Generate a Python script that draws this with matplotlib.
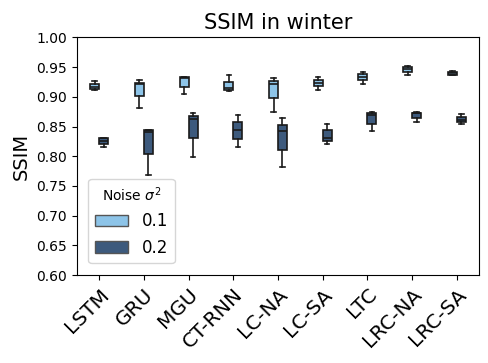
import matplotlib
matplotlib.use("Agg")
import matplotlib.pyplot as plt
from matplotlib.patches import Patch

models = ["LSTM", "GRU", "MGU", "CT-RNN", "LC-NA", "LC-SA", "LTC", "LRC-NA", "LRC-SA"]

# noise 0.1
lo_01  = [0.912, 0.881, 0.904, 0.910, 0.875, 0.912, 0.922, 0.937, 0.936]
q1_01  = [0.913, 0.901, 0.917, 0.912, 0.898, 0.918, 0.928, 0.942, 0.937]
med_01 = [0.917, 0.922, 0.931, 0.915, 0.922, 0.923, 0.933, 0.946, 0.940]
q3_01  = [0.921, 0.924, 0.933, 0.925, 0.927, 0.929, 0.938, 0.950, 0.942]
hi_01  = [0.926, 0.928, 0.934, 0.936, 0.931, 0.933, 0.941, 0.952, 0.944]

# noise 0.2
lo_02  = [0.816, 0.769, 0.798, 0.815, 0.782, 0.821, 0.842, 0.857, 0.855]
q1_02  = [0.820, 0.804, 0.830, 0.829, 0.811, 0.825, 0.855, 0.864, 0.857]
med_02 = [0.825, 0.841, 0.862, 0.845, 0.842, 0.830, 0.869, 0.872, 0.861]
q3_02  = [0.830, 0.844, 0.868, 0.858, 0.853, 0.844, 0.872, 0.873, 0.866]
hi_02  = [0.831, 0.845, 0.872, 0.869, 0.865, 0.855, 0.875, 0.875, 0.871]

noise_labels = ["0.1", "0.2"]
colors = ["#8dc4e8", "#3d5a7d"]


def make_stats(lo, q1, med, q3, hi):
    return [dict(whislo=a, q1=b, med=c, q3=d, whishi=e, fliers=[])
            for a, b, c, d, e in zip(lo, q1, med, q3, hi)]


fig = plt.figure(figsize=(4.89, 3.63), dpi=100)
ax = fig.add_axes([0.157, 0.242, 0.823, 0.655])

groups = [make_stats(lo_01, q1_01, med_01, q3_01, hi_01),
          make_stats(lo_02, q1_02, med_02, q3_02, hi_02)]
offsets = [-0.1, 0.1]

for stats, off, col in zip(groups, offsets, colors):
    pos = [i + off for i in range(len(models))]
    ax.bxp(stats, positions=pos, widths=0.2, patch_artist=True,
           showfliers=False,
           boxprops=dict(facecolor=col, edgecolor="#1a1a1a", linewidth=1.2),
           medianprops=dict(color="#1a1a1a", linewidth=1.2),
           whiskerprops=dict(color="#1a1a1a", linewidth=1.2),
           capprops=dict(color="#1a1a1a", linewidth=1.2))

ax.set_xlim(-0.5, len(models) - 0.5)
ax.set_ylim(0.60, 1.00)
ax.set_xticks(range(len(models)))
ax.set_xticklabels(models, rotation=45, ha="right", rotation_mode="anchor", fontsize=14.5)
ax.set_yticks([0.60, 0.65, 0.70, 0.75, 0.80, 0.85, 0.90, 0.95, 1.00])
ax.tick_params(axis="y", labelsize=10)
ax.set_ylabel("SSIM", fontsize=14)
ax.set_title("SSIM in winter", fontsize=15)

handles = [Patch(facecolor=c, edgecolor="#555555", label=l) for c, l in zip(colors, noise_labels)]
ax.legend(handles=handles, title=r"Noise $\sigma^2$", loc="lower left",
          fontsize=12, title_fontsize=10, borderaxespad=0.7)

fig.savefig("out.png", dpi=100)
